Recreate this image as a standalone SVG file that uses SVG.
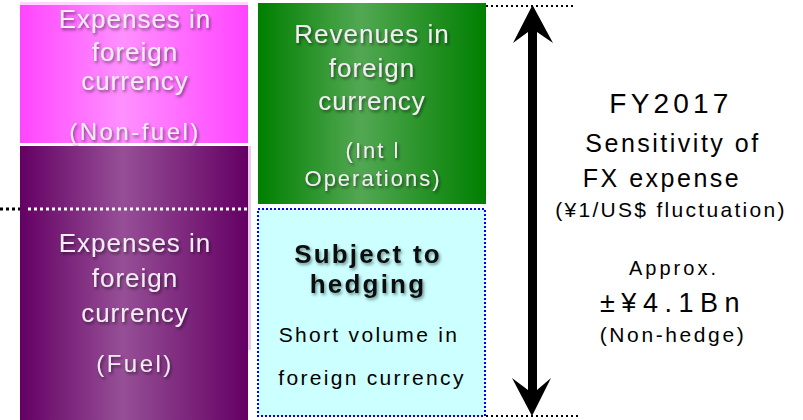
<svg xmlns="http://www.w3.org/2000/svg" width="803" height="420" viewBox="0 0 803 420">
<defs>
<linearGradient id="gPink" x1="0" y1="0" x2="1" y2="0">
<stop offset="0" stop-color="#ff45ff"/><stop offset="0.45" stop-color="#ff90ff"/><stop offset="1" stop-color="#ff45ff"/>
</linearGradient>
<linearGradient id="gPurple" x1="0" y1="0" x2="1" y2="0">
<stop offset="0" stop-color="#640064"/><stop offset="0.45" stop-color="#964f96"/><stop offset="1" stop-color="#640064"/>
</linearGradient>
<linearGradient id="gGreen" x1="0" y1="0" x2="1" y2="0">
<stop offset="0" stop-color="#007f00"/><stop offset="0.45" stop-color="#52a852"/><stop offset="1" stop-color="#007f00"/>
</linearGradient>
<filter id="shW" x="-10%" y="-30%" width="120%" height="160%">
<feDropShadow dx="1.5" dy="2" stdDeviation="1.5" flood-color="#000" flood-opacity="0.5"/>
</filter>
<filter id="shB" x="-10%" y="-30%" width="120%" height="160%">
<feDropShadow dx="1.5" dy="2" stdDeviation="1.5" flood-color="#2a4d4d" flood-opacity="0.6"/>
</filter>
</defs>
<style>
text{font-family:"Liberation Sans",Arial,sans-serif;text-anchor:middle}
.w{fill:#f4ecf4;font-size:26px;letter-spacing:1px;filter:url(#shW)}
.ws{fill:#f4ecf4;font-size:24px;letter-spacing:2.5px;filter:url(#shW)}
.wg{fill:#f4ecf4;font-size:22px;letter-spacing:2px;filter:url(#shW)}
.k{fill:#000}
</style>
<rect width="803" height="420" fill="#fff"/>

<g id="nonfuel">
<rect x="20" y="2" width="228" height="141" fill="url(#gPink)"/>
<rect x="20" y="2" width="228" height="3" fill="#ffd4ff"/>
<text class="w" x="135" y="28">Expenses in</text>
<text class="w" x="135" y="61">foreign</text>
<text class="w" x="135" y="90">currency</text>
<text class="ws" x="135" y="140">(Non-fuel)</text>
</g>

<g id="fuel">
<rect x="20" y="146" width="228" height="274" fill="url(#gPurple)"/>
<rect x="248" y="146" width="3" height="204" fill="#e6cfe6"/>
<text class="w" x="135" y="252">Expenses in</text>
<text class="w" x="135" y="287">foreign</text>
<text class="w" x="135" y="322">currency</text>
<text class="ws" x="135" y="372">(Fuel)</text>
</g>

<g id="revenues">
<rect x="258" y="3" width="228" height="201" fill="url(#gGreen)"/>
<text class="w" x="372" y="43">Revenues in</text>
<text class="w" x="372" y="77">foreign</text>
<text class="w" x="372" y="110">currency</text>
<text class="wg" x="373" y="158">(Int l</text>
<text class="wg" x="373" y="186">Operations)</text>
</g>

<g id="hedging">
<rect x="258" y="209" width="227" height="207" fill="#ccffff" stroke="#0000ff" stroke-width="2" stroke-dasharray="2 2"/>
<text x="368" y="263" style="font-size:26px;font-weight:bold;letter-spacing:2.2px;fill:#111;filter:url(#shB)">Subject to</text>
<text x="368" y="293" style="font-size:26px;font-weight:bold;letter-spacing:2.2px;fill:#111;filter:url(#shB)">hedging</text>
<text class="k" x="369" y="342" style="font-size:21px;letter-spacing:2.3px">Short volume in</text>
<text class="k" x="372" y="385" style="font-size:21px;letter-spacing:2.3px">foreign currency</text>
</g>

<g id="sensitivity">
<text class="k" x="671" y="113" style="font-size:28px;letter-spacing:4.2px">FY2017</text>
<text class="k" x="673" y="152" style="font-size:25px;letter-spacing:2.5px">Sensitivity of</text>
<text class="k" x="662" y="187" style="font-size:25px;letter-spacing:2.5px">FX expense</text>
<text class="k" x="671" y="217" style="font-size:21px;letter-spacing:2.3px">(¥1/US$ fluctuation)</text>
<text class="k" x="674" y="275" style="font-size:20px;letter-spacing:3px">Approx.</text>
<text class="k" x="673" y="312" style="font-size:27px;letter-spacing:6.5px">±¥4.1Bn</text>
<text class="k" x="673" y="342" style="font-size:21px;letter-spacing:2.6px">(Non-hedge)</text>
</g>

<g id="connectors">
<line x1="0" y1="209" x2="20" y2="209" stroke="#000" stroke-width="3" stroke-dasharray="3 3"/>
<line x1="28" y1="209" x2="248" y2="209" stroke="#fff" stroke-width="3" stroke-dasharray="3 3"/>
<line x1="486" y1="6" x2="575" y2="6" stroke="#000" stroke-width="2" stroke-dasharray="2 3"/>
<line x1="486" y1="416" x2="578" y2="416" stroke="#000" stroke-width="2" stroke-dasharray="2 3"/>
<path d="M532.5,5 L553,43 L537,32 L537,390 L551,378 L532,416 L512,378 L528,390 L528,32 L513,43 Z" fill="#000"/>
</g>
</svg>
